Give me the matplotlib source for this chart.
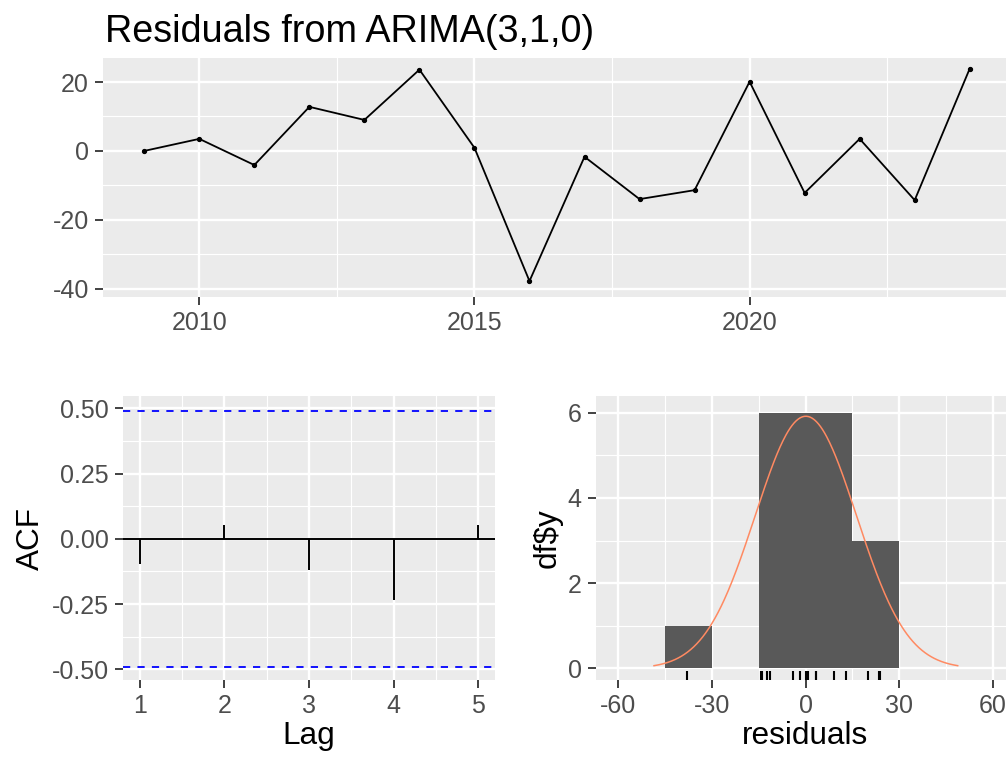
import matplotlib
matplotlib.use("Agg")
import matplotlib.pyplot as plt
import matplotlib.transforms as mtransforms
import numpy as np

plt.rcParams['font.family'] = ['Liberation Sans', 'DejaVu Sans']
plt.rcParams['axes.unicode_minus'] = False

# residuals, one per year
years = list(range(2009, 2025))
residuals = [0.0, 3.5, -4.1, 12.8, 9.0, 23.6, 0.9, -37.8, -1.7,
             -14.0, -11.4, 20.1, -12.2, 3.5, -14.3, 23.9]

# autocorrelation at lags 1..5
lags = [1, 2, 3, 4, 5]
acf_values = [-0.096, 0.051, -0.12, -0.235, 0.051]
ci_bound = 0.49

# histogram bin edges (binwidth 15)
bin_edges = [-45, -30, -15, 0, 15, 30]

W, H = 1006, 758
PANEL = '#EBEBEB'
TICK_TXT = '#4D4D4D'


def ggstyle(ax, xmaj, xmin, ymaj, ymin):
    ax.set_facecolor(PANEL)
    for s in ax.spines.values():
        s.set_visible(False)
    ax.set_xticks(xmaj)
    ax.set_xticks(xmin, minor=True)
    ax.set_yticks(ymaj)
    ax.set_yticks(ymin, minor=True)
    ax.grid(which='major', color='white', lw=1.7)
    ax.grid(which='minor', color='white', lw=0.85)
    ax.set_axisbelow(True)
    ax.tick_params(which='major', length=5.7, width=1.3, color='#333333',
                   labelsize=18, labelcolor=TICK_TXT, pad=4.5)
    ax.tick_params(which='minor', length=0)


def box(l, t, r, b):
    return [l / W, 1 - b / H, (r - l) / W, (b - t) / H]


fig = plt.figure(figsize=(W / 100, H / 100), dpi=100)

# ---- top: residual time series
ax1 = fig.add_axes(box(103, 58, 1011, 297))
ggstyle(ax1, [2010, 2015, 2020], [2007.5, 2012.5, 2017.5, 2022.5],
        [-40, -20, 0, 20], [-30, -10, 10])
ax1.plot(years, residuals, color='black', lw=1.3)
ax1.plot(years, residuals, 'o', color='black', ms=2.8)
rng = max(residuals) - min(residuals)
ax1.set_xlim(2009 - 0.75, 2024 + 0.75)
ax1.set_ylim(min(residuals) - 0.075 * rng, max(residuals) + 0.05 * rng)
fig.text(105 / W, 1 - 42 / H, 'Residuals from ARIMA(3,1,0)', fontsize=27.2,
         va='baseline', ha='left', color='black')

# ---- bottom left: ACF
ax2 = fig.add_axes(box(123, 396, 495, 680))
ggstyle(ax2, lags, [1.5, 2.5, 3.5, 4.5],
        [-0.5, -0.25, 0, 0.25, 0.5], [-0.375, -0.125, 0.125, 0.375])
ax2.set_yticklabels(['-0.50', '-0.25', '0.00', '0.25', '0.50'])
ax2.vlines(lags, 0, acf_values, color='black', lw=1.4)
ax2.axhline(0, color='black', lw=1.4)
for b in (ci_bound, -ci_bound):
    ax2.axhline(b, color='#0000FF', lw=1.3, ls=(0, (4, 4)))
ax2.set_xlim(0.8, 5.2)
ax2.set_ylim(-0.541, 0.547)
ax2.set_xlabel('Lag', fontsize=22.7, labelpad=2)
ax2.set_ylabel('ACF', fontsize=22.7, labelpad=4)

# ---- bottom right: histogram with normal curve and rug
ax3 = fig.add_axes(box(596, 396, 1015, 680))
ggstyle(ax3, [-60, -30, 0, 30, 60], [-45, -15, 15, 45],
        [0, 2, 4, 6], [1, 3, 5])
res = np.array(residuals)
ax3.hist(res, bins=bin_edges, color='#595959', edgecolor='none', zorder=2)
mu, sd = res.mean(), res.std(ddof=1)
xs = np.linspace(mu - 3 * sd, mu + 3 * sd, 300)
binw = bin_edges[1] - bin_edges[0]
dens = len(res) * binw * np.exp(-0.5 * ((xs - mu) / sd) ** 2) / (sd * np.sqrt(2 * np.pi))
ax3.plot(xs, dens, color='#FF8A62', lw=1.1, zorder=3)
trans = mtransforms.blended_transform_factory(ax3.transData, ax3.transAxes)
ax3.vlines(res, 0, 0.03, transform=trans, color='black', lw=1.5, zorder=3)
ax3.set_xlim(-67, 67)
ax3.set_ylim(-0.27, 6.39)
ax3.set_xlabel('residuals', fontsize=22.7, labelpad=2)
ax3.set_ylabel('df\\$y', fontsize=22.7, labelpad=4)

fig.savefig('out.png', dpi=100, facecolor='white')
